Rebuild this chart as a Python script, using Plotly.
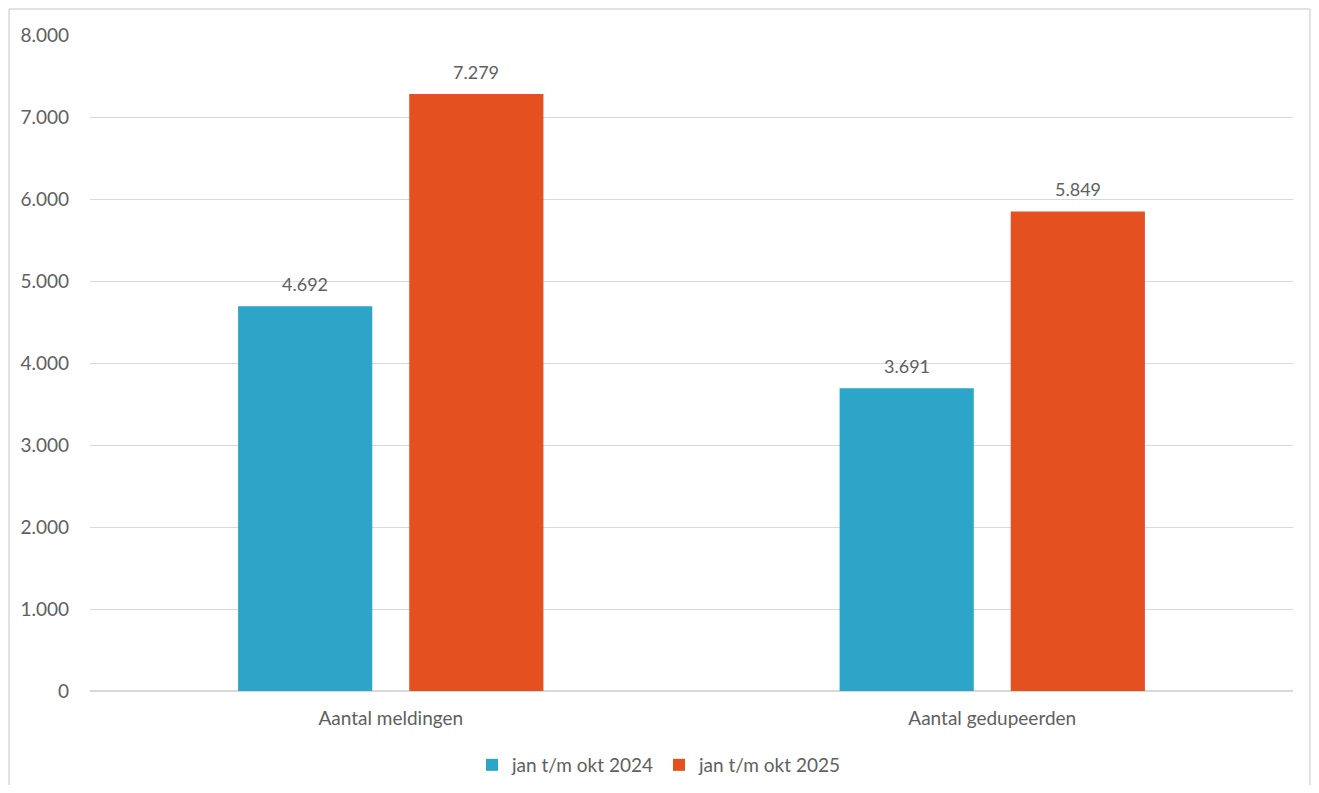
import plotly.graph_objects as go

categories = ["Aantal meldingen", "Aantal gedupeerden"]
series_names = ["jan t/m okt 2024", "jan t/m okt 2025"]
values_2024 = [4692, 3691]
values_2025 = [7279, 5849]
colors = ["#2CA5C8", "#E4501F"]
tick_vals = [0, 1000, 2000, 3000, 4000, 5000, 6000, 7000, 8000]
tick_text = ["0", "1.000", "2.000", "3.000", "4.000", "5.000", "6.000", "7.000", "8.000"]

def fmt(v):
    return f"{v:,}".replace(",", ".")

# page body has an 8px margin, so the figure is sized to fit inside the window
OFF = 8
W, H = 1319 - OFF - 8, 793 - OFF - 8
ml = 90 - OFF
mt = 35 - OFF
mr = W - (1293 - OFF)
mb = H - (691 - OFF)
FONT = "Lato"
GRAY = "#606060"
FS = 19

fig = go.Figure()
for i, (name, vals, col) in enumerate(zip(series_names, [values_2024, values_2025], colors)):
    fig.add_trace(go.Bar(
        x=categories, y=vals, name=name, marker=dict(color=col, line=dict(width=0)),
    ))

bar_offsets = [-0.142, 0.142]
for i, vals in enumerate([values_2024, values_2025]):
    for j, v in enumerate(vals):
        fig.add_annotation(x=j + bar_offsets[i], y=v, xref="x", yref="y", text=fmt(v),
                           showarrow=False, yanchor="bottom", yshift=9,
                           font=dict(family=FONT, size=18, color=GRAY))

# frame (left, top, right sides)
for x0, y0, x1, y1 in [(1, 0, 1, H - 1), (1, H - 1, W - 1, H - 1), (W - 1, 0, W - 1, H - 1)]:
    fig.add_shape(type="line", xref="paper", yref="paper",
                  x0=(x0 - ml) / (W - ml - mr), x1=(x1 - ml) / (W - ml - mr),
                  y0=(y0 - mb) / (H - mt - mb), y1=(y1 - mb) / (H - mt - mb),
                  line=dict(color="#D9D9D9", width=1.5), layer="below")

fig.update_layout(
    width=W, height=H, autosize=False,
    margin=dict(l=ml, r=mr, t=mt, b=mb),
    paper_bgcolor="white", plot_bgcolor="white",
    barmode="group", bargap=0.431, bargroupgap=0.216,
    font=dict(family=FONT, size=FS, color=GRAY),
    showlegend=True,
    legend=dict(orientation="h", xref="container", yref="container",
                x=(472 - OFF) / W, xanchor="left",
                y=1 - (765 - OFF) / H, yanchor="middle",
                font=dict(family=FONT, size=FS, color=GRAY),
                traceorder="normal"),
    yaxis=dict(range=[0, 8000], tickvals=tick_vals, ticktext=tick_text,
               showgrid=True, gridcolor="#D9D9D9", gridwidth=1,
               zeroline=True, zerolinecolor="#D9D9D9", zerolinewidth=1.5,
               showline=False, ticks="", ticklabelstandoff=20, automargin=False,
               tickfont=dict(family=FONT, size=FS, color=GRAY)),
    xaxis=dict(showline=False, ticks="", tickfont=dict(family=FONT, size=FS, color=GRAY),
               ticklabelstandoff=14, range=[-0.5, 1.5], automargin=False),
)

fig.write_html("out.html")
